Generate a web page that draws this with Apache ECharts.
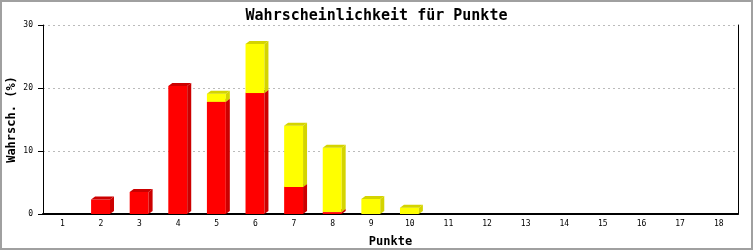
<!DOCTYPE html>
<html>
<head>
<meta charset="utf-8">
<script src="https://cdn.jsdelivr.net/npm/echarts@6/dist/echarts.min.js"></script>
<style>html,body{margin:0;padding:0;background:#fff}#c{width:753px;height:250px}</style>
</head>
<body>
<div id="c"></div>
<script>
var categories = ['1','2','3','4','5','6','7','8','9','10','11','12','13','14','15','16','17','18'];
var redValues = [0, 2.3, 3.5, 20.3, 17.8, 19.2, 4.3, 0.3, 0, 0, 0, 0, 0, 0, 0, 0, 0, 0];
var yellowValues = [0, 0, 0, 0, 1.3, 7.8, 9.7, 10.2, 2.4, 1.0, 0, 0, 0, 0, 0, 0, 0, 0];
var yTicks = [0, 10, 20, 30];

var MONO = '"DejaVu Sans Mono", "Liberation Mono", monospace';

function buildData(base, vals) {
  var out = [];
  for (var i = 0; i < vals.length; i++) {
    if (vals[i] > 0) {
      var b = base ? base[i] : 0;
      out.push([i, b, b + vals[i]]);
    }
  }
  return out;
}

function make3D(front, dark) {
  return function (params, api) {
    var cat = api.value(0), b = api.value(1), t = api.value(2);
    var pB = api.coord([cat, b]);
    var pT = api.coord([cat, t]);
    var bw = api.size([1, 0])[0];
    var w = bw * 0.49;
    var x1 = pB[0] - w * 0.52;
    var x2 = x1 + w;
    var yB = pB[1], yT = pT[1];
    var dx = 4, dy = 3;
    return {
      type: 'group',
      children: [
        { type: 'rect', shape: { x: x1, y: yT, width: w, height: yB - yT }, style: { fill: front } },
        { type: 'polygon', shape: { points: [[x2, yT], [x2 + dx, yT - dy], [x2 + dx, yB - dy], [x2, yB]] }, style: { fill: dark } },
        { type: 'polygon', shape: { points: [[x1, yT], [x1 + dx, yT - dy], [x2 + dx, yT - dy], [x2, yT]] }, style: { fill: dark } }
      ]
    };
  };
}

var chart = echarts.init(document.getElementById('c'), null, { renderer: 'canvas' });
chart.setOption({
  backgroundColor: '#ffffff',
  animation: false,
  title: {
    text: 'Wahrscheinlichkeit für Punkte',
    left: 'center',
    top: 4,
    textStyle: { fontFamily: MONO, fontSize: 15, fontWeight: 'bold', color: '#000' }
  },
  graphic: [{
    type: 'rect', shape: { x: 1, y: 1, width: 751, height: 248 },
    style: { fill: 'none', stroke: '#a0a0a0', lineWidth: 2 }, z: 100
  }],
  grid: { left: 43, right: 15, top: 25, bottom: 36, containLabel: false, outerBoundsMode: 'none' },
  xAxis: {
    type: 'category',
    data: categories,
    name: 'Punkte',
    nameLocation: 'middle',
    nameGap: 22,
    nameMoveOverlap: false,
    nameTextStyle: { fontFamily: MONO, fontSize: 12, fontWeight: 'bold', color: '#000' },
    axisLine: { lineStyle: { color: '#000', width: 2 } },
    axisTick: { show: false },
    axisLabel: { fontFamily: MONO, fontSize: 8, color: '#000', margin: 6, interval: 0 }
  },
  yAxis: [{
    type: 'value',
    min: yTicks[0],
    max: yTicks[yTicks.length - 1],
    interval: 10,
    name: 'Wahrsch. (%)',
    nameLocation: 'middle',
    nameGap: 25,
    nameMoveOverlap: false,
    nameTextStyle: { fontFamily: MONO, fontSize: 12, fontWeight: 'bold', color: '#000' },
    axisLine: { show: true, lineStyle: { color: '#000', width: 1 } },
    axisTick: { show: true, length: 5, lineStyle: { color: '#000' } },
    axisLabel: { fontFamily: MONO, fontSize: 8, color: '#000', margin: 10 },
    splitLine: { show: true, lineStyle: { color: '#bbbbbb', type: [2, 3] } }
  }, {
    type: 'value',
    position: 'right',
    min: 0, max: 30, interval: 10,
    axisLine: { show: true, lineStyle: { color: '#000', width: 1 } },
    axisTick: { show: false },
    axisLabel: { show: false },
    splitLine: { show: false }
  }],
  series: [{
    type: 'custom',
    renderItem: make3D('#ff0000', '#cc0000'),
    data: buildData(null, redValues),
    encode: { x: 0, y: [1, 2] },
    z: 2
  }, {
    type: 'custom',
    renderItem: make3D('#ffff00', '#d4d400'),
    data: buildData(redValues, yellowValues),
    encode: { x: 0, y: [1, 2] },
    z: 3
  }]
});
</script>
</body>
</html>
